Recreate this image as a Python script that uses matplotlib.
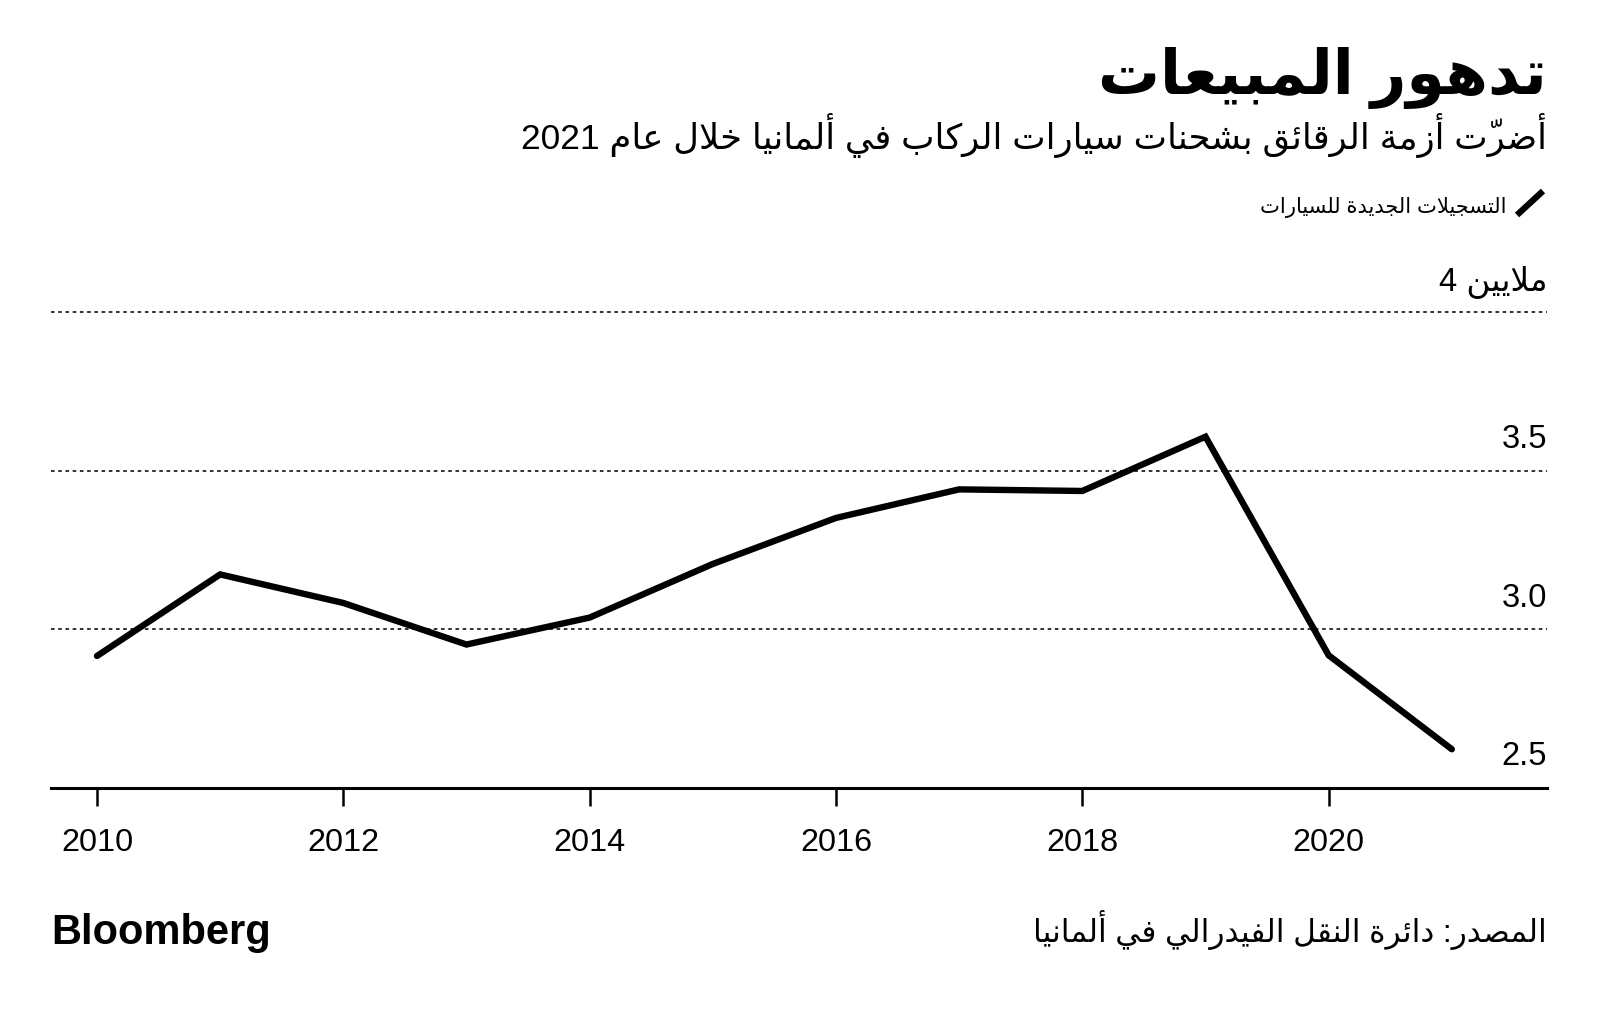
import matplotlib
matplotlib.use("Agg")
from matplotlib import pyplot as plt
from matplotlib.lines import Line2D

# data: new car registrations in Germany (millions)
years = [2010, 2011, 2012, 2013, 2014, 2015, 2016, 2017, 2018, 2019, 2020, 2021]
registrations = [2.916, 3.173, 3.083, 2.952, 3.037, 3.206, 3.351, 3.441, 3.436, 3.607, 2.918, 2.622]
y_ticks = [2.5, 3.0, 3.5]
x_ticks = [2010, 2012, 2014, 2016, 2018, 2020]

title = "تدهور المبيعات"
subtitle = "أضرّت أزمة الرقائق بشحنات سيارات الركاب في ألمانيا خلال عام 2021"
legend_label = "التسجيلات الجديدة للسيارات"
unit_label = "ملايين"
source = "المصدر: دائرة النقل الفيدرالي في ألمانيا"

# --- small arabic shaper (matplotlib has no shaping / bidi) ---
# letter -> (first presentation form, number of forms)
forms = {
    'ء': (0xFE80, 1), 'آ': (0xFE81, 2), 'أ': (0xFE83, 2), 'ؤ': (0xFE85, 2),
    'إ': (0xFE87, 2), 'ئ': (0xFE89, 4), 'ا': (0xFE8D, 2), 'ب': (0xFE8F, 4),
    'ة': (0xFE93, 2), 'ت': (0xFE95, 4), 'ث': (0xFE99, 4), 'ج': (0xFE9D, 4),
    'ح': (0xFEA1, 4), 'خ': (0xFEA5, 4), 'د': (0xFEA9, 2), 'ذ': (0xFEAB, 2),
    'ر': (0xFEAD, 2), 'ز': (0xFEAF, 2), 'س': (0xFEB1, 4), 'ش': (0xFEB5, 4),
    'ص': (0xFEB9, 4), 'ض': (0xFEBD, 4), 'ط': (0xFEC1, 4), 'ظ': (0xFEC5, 4),
    'ع': (0xFEC9, 4), 'غ': (0xFECD, 4), 'ف': (0xFED1, 4), 'ق': (0xFED5, 4),
    'ك': (0xFED9, 4), 'ل': (0xFEDD, 4), 'م': (0xFEE1, 4), 'ن': (0xFEE5, 4),
    'ه': (0xFEE9, 4), 'و': (0xFEED, 2), 'ى': (0xFEEF, 2), 'ي': (0xFEF1, 4),
}
lam_alef = {'ا': 0xFEFB, 'أ': 0xFEF7, 'إ': 0xFEF9, 'آ': 0xFEF5}
marks = set('\u064B\u064C\u064D\u064E\u064F\u0650\u0651\u0652')


def shape(text):
    chars = list(text)
    n = len(chars)

    def neighbour(i, step):
        j = i + step
        while 0 <= j < n and chars[j] in marks:
            j += step
        return chars[j] if 0 <= j < n else None

    out = []
    i = 0
    while i < n:
        c = chars[i]
        if c not in forms:
            out.append(c)
            i += 1
            continue
        prev = neighbour(i, -1)
        nxt = neighbour(i, 1)
        join_prev = prev in forms and forms[prev][1] == 4
        if c == 'ل' and nxt in lam_alef:
            out.append(chr(lam_alef[nxt] + (1 if join_prev else 0)))
            i += 1
            while i < n and chars[i] != nxt:
                i += 1
            i += 1
            continue
        start, nf = forms[c]
        join_next = nf == 4 and nxt in forms
        if nf == 1:
            g = start
        elif nf == 2:
            g = start + (1 if join_prev else 0)
        else:
            if join_prev and join_next:
                g = start + 3
            elif join_next:
                g = start + 2
            elif join_prev:
                g = start + 1
            else:
                g = start
        out.append(chr(g))
        i += 1

    # visual order: reverse, keep digit runs left-to-right
    vis = out[::-1]
    res = []
    run = []
    for c in vis:
        if c.isdigit() or (run and c == '.'):
            run.append(c)
        else:
            if run:
                res.extend(run[::-1])
                run = []
            res.append(c)
    res.extend(run[::-1])
    return ''.join(res)


fam = ['Liberation Sans', 'DejaVu Sans']
plt.rcParams['font.family'] = fam

fig = plt.figure(figsize=(16, 10.12), dpi=100)
ax = fig.add_axes([0.0319, 0.2204, 0.935, 0.4703])

ax.plot(years, registrations, color='black', linewidth=4.6,
        solid_capstyle='round', solid_joinstyle='miter', zorder=3)

ax.set_xlim(2009.627, 2021.773)
ax.set_ylim(2.5, 4.0)

# dotted gridlines
for v in [3.0, 3.5, 4.0]:
    ax.axhline(v, color='#222222', linewidth=1.3, linestyle=(0, (2, 2)),
               clip_on=False, zorder=1)

# y labels sit above the lines at the right edge
for v in y_ticks:
    ax.text(1.0, v + 0.052, '%.1f' % v, transform=ax.get_yaxis_transform(),
            ha='right', va='bottom', fontsize=23.5)
ax.text(1.0, 4.045, '4 ' + shape(unit_label), transform=ax.get_yaxis_transform(),
        ha='right', va='bottom', fontsize=23.5)

for s in ['top', 'right', 'left']:
    ax.spines[s].set_visible(False)
ax.spines['bottom'].set_linewidth(2.2)
ax.set_yticks([])
ax.set_xticks(x_ticks)
ax.set_xticklabels([str(x) for x in x_ticks])
ax.tick_params(axis='x', direction='out', length=13, width=1.8,
               labelsize=23.3, pad=15)

# header
fig.text(0.9669, 0.923, shape(title), ha='right', va='center',
         fontsize=44.5, fontweight='bold', family=fam)
fig.text(0.9669, 0.866, shape(subtitle), ha='right', va='center',
         fontsize=25.5, family=fam)

# legend
fig.add_artist(Line2D([1517 / 1600, 1543 / 1600], [1 - 216 / 1012, 1 - 192 / 1012],
                      color='black', linewidth=4.5, solid_capstyle='butt'))
fig.text(1506 / 1600, 1 - 207 / 1012, shape(legend_label), ha='right', va='center',
         fontsize=15.2, family=fam)

# footer
fig.text(0.0319, 1 - 933 / 1012, 'Bloomberg', ha='left', va='center',
         fontsize=30, fontweight='bold', family=fam)
fig.text(0.9669, 1 - 930 / 1012, shape(source), ha='right', va='center',
         fontsize=22.5, family=fam)

fig.savefig('out.png', dpi=100, facecolor='white')
